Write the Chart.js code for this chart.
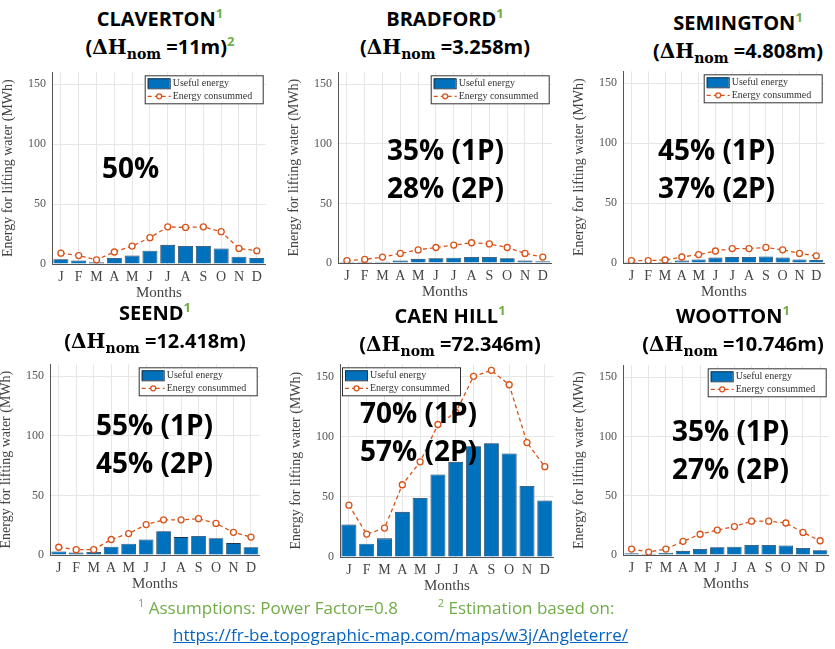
<!DOCTYPE html>
<html>
<head>
<meta charset="utf-8">
<script src="https://cdn.jsdelivr.net/npm/chart.js@4"></script>
<style>
  body { margin: 0; width: 835px; height: 649px; background: #fff; position: relative; overflow: hidden;
         font-family: "Open Sans", "Noto Sans", sans-serif; }
  .title { position: absolute; text-align: center; font-weight: bold; font-size: 20px; line-height: 28px; color: #000; width: 300px; }
  .title sup { color: #70ad47; font-size: 13px; font-weight: bold; line-height: 0; }
  .title .h { font-family: "DejaVu Serif", serif; }
  .title sub { font-family: "DejaVu Serif", serif; font-size: 14px; line-height: 0; }
  .pct { position: absolute; font-weight: bold; font-size: 28px; line-height: 38px; color: #000; white-space: nowrap; }
  canvas { position: absolute; }
  .foot { position: absolute; color: #70ad47; font-size: 17px; }
  .foot a { color: #0563c1; }
</style>
</head>
<body>
<div id="root"></div>
<div class="foot" style="left:138px; top:595px;"><sup style="font-size:11px">1</sup> Assumptions: Power Factor=0.8 &nbsp;&nbsp;&nbsp;&nbsp;&nbsp;&nbsp;&nbsp;&nbsp;<sup style="font-size:11px">2</sup> Estimation based on:</div>
<div class="foot" style="left:173px; top:623px;"><a href="#">https://fr-be.topographic-map.com/maps/w3j/Angleterre/</a></div>
<script>
const months = ['J', 'F', 'M', 'A', 'M', 'J', 'J', 'A', 'S', 'O', 'N', 'D'];

const clavertonUseful = [4, 3, 1.5, 5, 7, 11, 16, 15, 15, 13, 6, 5];
const clavertonConsumed = [9, 7, 3.5, 10, 15, 22, 31, 30.5, 31, 27, 13, 11];
const bradfordUseful = [1, 1, 1, 2, 3.5, 4, 4.5, 5, 5, 4, 2, 1.5];
const bradfordConsumed = [2, 3, 5, 8, 11, 13, 15, 17, 16, 13, 8, 5];
const semingtonUseful = [1, 0.5, 1, 2, 3, 4.5, 5, 5, 5.5, 4.5, 3, 2.5];
const semingtonConsumed = [2, 2, 2.5, 5, 7, 10, 12, 12, 13, 11, 8, 6];
const seendUseful = [3, 2, 2.5, 7, 9.5, 13, 20, 15, 16, 14, 10, 6.5];
const seendConsumed = [6.5, 4.5, 4.5, 13, 18, 25.5, 29.5, 29.5, 30.5, 26.5, 19, 15];
const caenHillUseful = [27, 11, 15.5, 37.5, 49, 68.5, 79, 92, 94.5, 86, 59, 47];
const caenHillConsumed = [43, 19, 24, 60, 79, 110, 120, 150, 155, 143, 95, 75];
const woottonUseful = [1.5, 1, 2, 3.5, 5, 6.5, 7, 8.5, 8.5, 8, 6, 4];
const woottonConsumed = [5, 2.5, 5, 11.5, 17.5, 21, 24, 28.5, 28.5, 27, 19, 12];

const yTicks = [0, 50, 100, 150];

// panel layout: plot area box, title centre, percentage labels
const panels = [
  { name: 'CLAVERTON', head: '11m', note2: true, useful: clavertonUseful, consumed: clavertonConsumed,
    plot: [52, 73, 267, 261], tx: 160, ty: 5, pct: ['50%'], px: 102, py: 148, legendLeft: false },
  { name: 'BRADFORD', head: '3.258m', useful: bradfordUseful, consumed: bradfordConsumed,
    plot: [338, 73, 553, 260], tx: 445, ty: 5, pct: ['35% (1P)', '28% (2P)'], px: 387, py: 130, legendLeft: false },
  { name: 'SEMINGTON', head: '4.808m', useful: semingtonUseful, consumed: semingtonConsumed,
    plot: [623, 72, 826, 260], tx: 738, ty: 9, pct: ['45% (1P)', '37% (2P)'], px: 658, py: 130, legendLeft: false },
  { name: 'SEEND', head: '12.418m', useful: seendUseful, consumed: seendConsumed,
    plot: [50, 365, 261, 552], tx: 155, ty: 299, pct: ['55% (1P)', '45% (2P)'], px: 96, py: 405, legendLeft: false },
  { name: 'CAEN HILL', head: '72.346m', useful: caenHillUseful, consumed: caenHillConsumed,
    plot: [340, 365, 555, 554], tx: 450, ty: 302, pct: ['70% (1P)', '57% (2P)'], px: 360, py: 393, legendLeft: true },
  { name: 'WOOTTON', head: '10.746m', useful: woottonUseful, consumed: woottonConsumed,
    plot: [623, 366, 830, 552], tx: 733, ty: 302, pct: ['35% (1P)', '27% (2P)'], px: 672, py: 411, legendLeft: false }
];

const legendPlugin = {
  id: 'boxLegend',
  afterDraw(chart, args, opts) {
    const ctx = chart.ctx, a = chart.chartArea;
    const w = 118, h = 28;
    const x = opts.left ? a.left + 2 : a.right - w - 3;
    const y = a.top + 3;
    ctx.save();
    ctx.fillStyle = '#fff';
    ctx.strokeStyle = '#333';
    ctx.lineWidth = 1;
    ctx.fillRect(x, y, w, h);
    ctx.strokeRect(x + 0.5, y + 0.5, w, h);
    ctx.fillStyle = '#0072BD';
    ctx.fillRect(x + 3, y + 3, 22, 10);
    ctx.strokeStyle = '#1b3650';
    ctx.strokeRect(x + 3.5, y + 3.5, 22, 10);
    ctx.strokeStyle = '#D95319';
    ctx.lineWidth = 1.3;
    ctx.setLineDash([4, 3]);
    ctx.beginPath(); ctx.moveTo(x + 3, y + 21); ctx.lineTo(x + 26, y + 21); ctx.stroke();
    ctx.setLineDash([]);
    ctx.fillStyle = '#fff';
    ctx.beginPath(); ctx.arc(x + 14.5, y + 21, 2.5, 0, Math.PI * 2); ctx.fill(); ctx.stroke();
    ctx.fillStyle = '#333';
    ctx.font = '10px "Liberation Serif", "DejaVu Serif", serif';
    ctx.textBaseline = 'middle';
    ctx.fillText('Useful energy', x + 28, y + 8);
    ctx.fillText('Energy consummed', x + 28, y + 21);
    ctx.restore();
  }
};

const root = document.getElementById('root');
const serif = '"Liberation Serif", "DejaVu Serif", serif';

panels.forEach((p) => {
  const t = document.createElement('div');
  t.className = 'title';
  t.style.left = (p.tx - 150) + 'px';
  t.style.top = p.ty + 'px';
  t.innerHTML = p.name + '<sup>1</sup><br>(<span class="h">&Delta;H</span><sub>nom</sub> =' + p.head + ')' + (p.note2 ? '<sup>2</sup>' : '');
  root.appendChild(t);

  const [l, tp, r, b] = p.plot;
  const offL = 52, offT = 2, offB = 42, offR = 4;
  // measured: the library leaves ~4px extra above and ~3px below the box
  const cw = r - l + offL + offR, ch = b - tp + offT + offB + 7;
  const canvas = document.createElement('canvas');
  canvas.style.left = (l - offL) + 'px';
  canvas.style.top = (tp - offT - 4) + 'px';
  canvas.style.width = cw + 'px';
  canvas.style.height = ch + 'px';
  canvas.width = cw;
  canvas.height = ch;
  root.appendChild(canvas);

  new Chart(canvas, {
    type: 'bar',
    data: {
      labels: months,
      datasets: [
        { type: 'line', label: 'Energy consummed', data: p.consumed, borderColor: '#D95319', borderWidth: 1.3,
          borderDash: [4, 3], pointRadius: 3, pointBackgroundColor: '#fff', pointBorderColor: '#D95319',
          pointBorderWidth: 1.3, tension: 0, order: 0 },
        { label: 'Useful energy', data: p.useful, backgroundColor: '#0072BD', borderColor: '#1b3650',
          borderWidth: 0.8, categoryPercentage: 1, barPercentage: 0.84, order: 1 }
      ]
    },
    options: {
      responsive: false,
      animation: false,
      layout: { padding: { top: offT, right: offR, left: 0, bottom: 0 } },
      scales: {
        x: {
          afterFit: (ax) => { ax.height = offB; ax.paddingLeft = 0; ax.paddingRight = 0; },
          grid: { color: '#e6e6e6', offset: false, drawTicks: false },
          border: { color: '#555' },
          ticks: { color: '#444', font: { family: serif, size: 14 }, padding: 5, maxRotation: 0, autoSkip: false },
          title: { display: true, text: 'Months', color: '#444', font: { family: serif, size: 15 }, padding: { top: 0 } }
        },
        y: {
          min: 0, max: 160,
          afterFit: (ax) => { ax.width = offL; ax.paddingTop = 0; ax.paddingBottom = 0; },
          afterBuildTicks: (ax) => { ax.ticks = yTicks.map((v) => ({ value: v })); },
          grid: { color: '#e6e6e6', drawTicks: false },
          border: { color: '#555' },
          ticks: { color: '#555', font: { family: serif, size: 12 }, padding: 6 },
          title: { display: true, text: 'Energy for lifting water (MWh)', color: '#444', font: { family: serif, size: 14 }, padding: 0 }
        }
      },
      plugins: { legend: { display: false }, tooltip: { enabled: false }, boxLegend: { left: p.legendLeft } }
    },
    plugins: [legendPlugin]
  });

  const pc = document.createElement('div');
  pc.className = 'pct';
  pc.style.left = p.px + 'px';
  pc.style.top = p.py + 'px';
  pc.innerHTML = p.pct.join('<br>');
  root.appendChild(pc);
});
</script>
</body>
</html>
